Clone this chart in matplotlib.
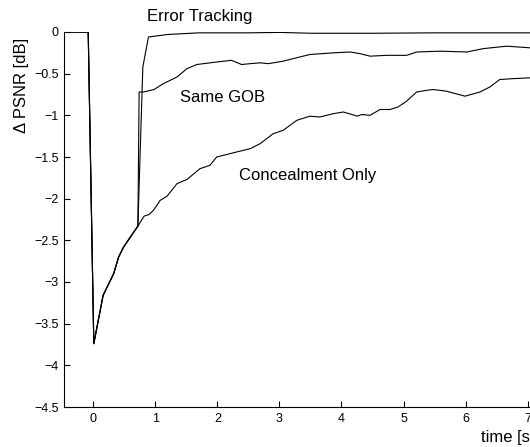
import matplotlib
matplotlib.use("Agg")
import matplotlib.pyplot as plt

plt.rcParams['font.family'] = ['Liberation Sans', 'DejaVu Sans']

common_x = [-0.47, -0.08, 0.01, 0.16, 0.33, 0.41, 0.49, 0.60, 0.72]
common_y = [0.0, 0.0, -3.74, -3.16, -2.90, -2.70, -2.58, -2.46, -2.33]

et_x = [0.80, 0.89, 1.2, 1.7, 2.5, 3.0, 3.5, 4.5, 5.5, 6.5, 7.2]
et_y = [-0.42, -0.06, -0.03, -0.01, -0.01, -0.005, -0.015, -0.015, -0.01, -0.01, -0.01]

sg_x = [0.74, 0.81, 0.98, 1.13, 1.35, 1.51, 1.67, 1.99, 2.23, 2.39, 2.53, 2.69, 2.82,
        3.06, 3.22, 3.49, 3.87, 4.14, 4.30, 4.46, 4.73, 5.05, 5.21, 5.59, 6.02, 6.28,
        6.66, 7.04, 7.2]
sg_y = [-0.72, -0.72, -0.69, -0.62, -0.54, -0.44, -0.39, -0.36, -0.34, -0.39, -0.38,
        -0.37, -0.38, -0.35, -0.32, -0.27, -0.25, -0.24, -0.26, -0.29, -0.28, -0.28,
        -0.24, -0.23, -0.24, -0.20, -0.17, -0.19, -0.19]

co_x = [0.82, 0.90, 0.97, 1.08, 1.19, 1.35, 1.51, 1.72, 1.88, 1.99, 2.31, 2.53, 2.69,
        2.90, 3.06, 3.28, 3.49, 3.65, 3.87, 4.03, 4.17, 4.25, 4.33, 4.46, 4.62, 4.78,
        4.91, 5.05, 5.21, 5.37, 5.48, 5.69, 5.99, 6.23, 6.39, 6.55, 6.76, 7.04, 7.2]
co_y = [-2.21, -2.19, -2.14, -2.02, -1.97, -1.82, -1.77, -1.64, -1.60, -1.50, -1.44,
        -1.40, -1.34, -1.22, -1.18, -1.06, -1.01, -1.02, -0.98, -0.96, -0.99, -1.01,
        -0.99, -1.00, -0.93, -0.93, -0.90, -0.83, -0.72, -0.70, -0.69, -0.71, -0.77,
        -0.72, -0.66, -0.57, -0.56, -0.55, -0.55]

x_ticks = [0, 1, 2, 3, 4, 5, 6, 7, 8]
y_ticks = [0, -0.5, -1, -1.5, -2, -2.5, -3, -3.5, -4, -4.5]
y_ticklabels = ['0', '\u22120.5', '\u22121', '\u22121.5', '\u22122', '\u22122.5',
                '\u22123', '\u22123.5', '\u22124', '\u22124.5']

fig = plt.figure(figsize=(5.30, 4.47), dpi=100)
W, H = 530, 447
left_px, bottom_px, top_px = 64, 407, 32
right_px = 93 + 8 * 62.1
ax = fig.add_axes([left_px / W, (H - bottom_px) / H,
                   (right_px - left_px) / W, (bottom_px - top_px) / H])

lw = 0.8
for xs, ys in [(et_x, et_y), (sg_x, sg_y), (co_x, co_y)]:
    ax.plot(common_x + xs, common_y + ys, color='black', lw=lw)

ax.set_xlim(-0.47, 8)
ax.set_ylim(-4.5, 0)
ax.set_xticks(x_ticks)
ax.set_yticks(y_ticks)
ax.set_yticklabels(y_ticklabels)
ax.tick_params(direction='in', length=4, width=0.8, labelsize=9, pad=4)
ax.spines['top'].set_visible(False)
ax.spines['right'].set_visible(False)
for s in ['left', 'bottom']:
    ax.spines[s].set_linewidth(0.8)

fs = 12
ax.text(1.72, 0.18, 'Error Tracking', fontsize=fs, ha='center', va='center', clip_on=False)
ax.text(2.09, -0.79, 'Same GOB', fontsize=fs, ha='center', va='center')
ax.text(3.46, -1.72, 'Concealment Only', fontsize=fs, ha='center', va='center')
ax.text(6.25, -4.87, 'time [s]', fontsize=fs, ha='left', va='center', clip_on=False)
fig.text(22 / W, 1 - 85 / H, '\u0394 PSNR [dB]', fontsize=fs, rotation=90,
         ha='center', va='center')

fig.savefig('out.png', dpi=100)
